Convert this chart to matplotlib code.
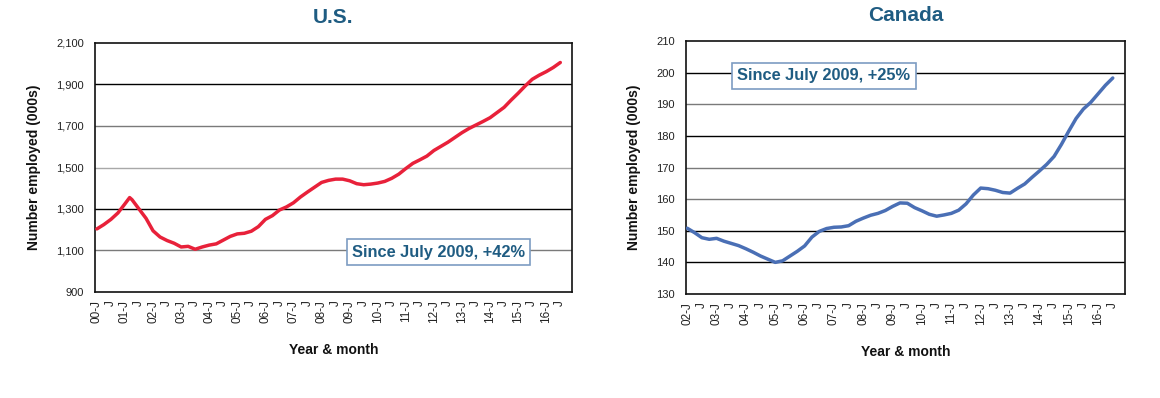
import matplotlib
matplotlib.use("Agg")
import matplotlib.pyplot as plt

plt.rcParams["font.family"] = ["Liberation Sans", "DejaVu Sans"]

# U.S. employment (000s), months since Jan 2000
us_months = [0, 3, 6, 9, 12, 14, 15, 18, 21, 24, 27, 30, 33, 36, 39, 42, 45, 48,
             51, 54, 57, 60, 63, 66, 69, 72, 75, 78, 81, 84, 87, 90, 93, 96, 99,
             102, 105, 108, 111, 114, 117, 120, 123, 126, 129, 132, 135, 138, 141,
             144, 147, 150, 153, 156, 159, 162, 165, 168, 171, 174, 177, 180, 183,
             186, 189, 192, 195, 198]
us_values = [1204, 1225, 1250, 1281, 1325, 1355, 1345, 1300, 1255, 1195, 1165, 1148,
             1135, 1117, 1120, 1106, 1117, 1126, 1132, 1150, 1168, 1180, 1183, 1193,
             1215, 1250, 1268, 1295, 1310, 1330, 1358, 1382, 1405, 1428, 1438, 1444,
             1444, 1436, 1422, 1417, 1420, 1425, 1433, 1448, 1468, 1495, 1520, 1537,
             1555, 1582, 1602, 1622, 1645, 1668, 1688, 1705, 1722, 1740, 1765, 1790,
             1825, 1858, 1893, 1925, 1945, 1962, 1982, 2006]

# Canada employment (000s), months since Jan 2002
ca_months = list(range(0, 175, 3))
ca_values = [150.8, 149.4, 147.8, 147.3, 147.6, 146.7, 146.0, 145.3, 144.3, 143.2,
             142.0, 141.0, 140.0, 140.5, 142.0, 143.5, 145.2, 148.0, 149.8, 150.7,
             151.1, 151.2, 151.6, 153.0, 154.0, 154.9, 155.5, 156.4, 157.7, 158.8,
             158.7, 157.3, 156.3, 155.2, 154.6, 155.0, 155.5, 156.5, 158.5, 161.3,
             163.5, 163.3, 162.8, 162.1, 161.9, 163.4, 164.8, 166.9, 168.9, 171.0,
             173.5, 177.3, 181.5, 185.5, 188.5, 190.6, 193.3, 196.0, 198.3]

us_start_year = 0
ca_start_year = 2
us_yticks = [900, 1100, 1300, 1500, 1700, 1900, 2100]
ca_yticks = [130, 140, 150, 160, 170, 180, 190, 200, 210]
us_note = "Since July 2009, +42%"
ca_note = "Since July 2009, +25%"

TITLE_C = "#1f5c82"
W, H = 1160, 398
fig = plt.figure(figsize=(W / 100, H / 100), dpi=100)


def box(l, r, t, b):
    return [l / W, 1 - b / H, (r - l) / W, (b - t) / H]


def month_labels(start_year, n_half_years):
    ticks, labels = [], []
    for k in range(n_half_years):
        ticks.append(k * 6)
        if k % 2 == 0:
            labels.append(f"{start_year + k // 2:02d}-J")
        else:
            labels.append("J")
    return ticks, labels


def setup(ax, title, xs, ys, color, yticks, grid_colors, start_year, nhalf, xlim,
          note, note_xy):
    ax.plot(xs, ys, color=color, lw=2.5, solid_capstyle="round", zorder=3)
    ax.set_xlim(*xlim)
    ax.set_ylim(yticks[0], yticks[-1])
    for yv, gc in zip(yticks[1:-1], grid_colors):
        ax.axhline(yv, color=gc, lw=1.0, zorder=1)
    ax.set_yticks(yticks)
    ax.set_yticklabels([f"{v:,}" for v in yticks], fontsize=8, color="#222222")
    ticks, labels = month_labels(start_year, nhalf)
    ax.set_xticks(ticks)
    ax.set_xticklabels(labels, rotation=90, fontsize=8.5, color="#222222")
    ax.tick_params(axis="both", length=0)
    ax.tick_params(axis="y", pad=8)
    ax.tick_params(axis="x", pad=6)
    for s in ax.spines.values():
        s.set_linewidth(1.2)
        s.set_color("#111111")
    ax.set_title(title, fontsize=15, fontweight="bold", color=TITLE_C, pad=14.5)
    ax.set_ylabel("Number employed (000s)", fontsize=10, fontweight="bold",
                  color="#111111", labelpad=11)
    ax.set_xlabel("Year & month", fontsize=10, fontweight="bold", color="#111111",
                  labelpad=14)
    ax.text(note_xy[0], note_xy[1], note, transform=ax.transAxes, ha="center",
            va="center", fontsize=11.8, fontweight="bold", color=TITLE_C, zorder=5,
            bbox=dict(boxstyle="square,pad=0.33", fc="white", ec="#7d9cc2", lw=1.2))


ax1 = fig.add_axes(box(95, 572, 43, 292))
setup(ax1, "U.S.", us_months, us_values, "#e8213a", us_yticks,
      ["#7a7a7a", "#000000", "#a8a8a8", "#7a7a7a", "#000000"],
      us_start_year, 34, (-0.8, 203), us_note, (0.72, 0.16))

ax2 = fig.add_axes(box(686, 1125, 41, 294))
setup(ax2, "Canada", ca_months, ca_values, "#4a6fb5", ca_yticks,
      ["#000000", "#000000", "#7a7a7a", "#7a7a7a", "#000000", "#7a7a7a", "#000000"],
      ca_start_year, 30, (-0.5, 179), ca_note, (0.314, 0.862))

fig.savefig("out.png", dpi=100)
